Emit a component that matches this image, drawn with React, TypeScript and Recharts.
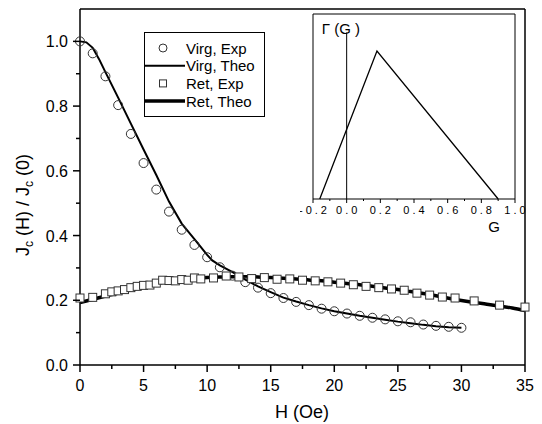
import React from 'react';
import { ComposedChart, LineChart, Line, Scatter, XAxis, YAxis, ReferenceLine, Legend } from 'recharts';

const FONT = "'Liberation Sans', Arial, Helvetica, sans-serif";

// Virgin curve, experiment (circles)
const virgExpH = [0, 1, 2, 3, 4, 5, 6, 7, 8, 9, 10, 11, 12, 13, 14, 15, 16, 17, 18, 19, 20, 21, 22, 23, 24, 25, 26, 27, 28, 29, 30];
const virgExpJ = [1.0, 0.963, 0.892, 0.803, 0.714, 0.624, 0.542, 0.474, 0.418, 0.371, 0.333, 0.302, 0.276, 0.256, 0.239, 0.222, 0.207, 0.195, 0.185, 0.174, 0.166, 0.159, 0.152, 0.146, 0.141, 0.135, 0.132, 0.125, 0.121, 0.118, 0.115];

// Virgin curve, theory
const virgTheoH = [0, 0.5, 1, 1.5, 2, 3, 4, 5, 6, 7, 8, 9, 10, 10.4, 11, 12, 13, 14, 15, 16, 17, 18, 19, 20, 21, 22, 23, 24, 25, 26, 27, 28, 29, 30];
const virgTheoJ = [1.0, 0.997, 0.98, 0.945, 0.905, 0.826, 0.746, 0.666, 0.587, 0.505, 0.437, 0.389, 0.34, 0.323, 0.308, 0.287, 0.264, 0.243, 0.225, 0.208, 0.196, 0.185, 0.175, 0.166, 0.159, 0.152, 0.146, 0.14, 0.134, 0.129, 0.124, 0.12, 0.117, 0.115];

// Return curve, experiment (squares)
const retExpH = [0, 1, 2, 2.5, 3, 3.5, 4, 4.5, 5, 5.5, 6, 6.5, 7, 7.5, 8, 8.5, 9, 9.5, 10.5, 11.5, 12.5, 13.5, 14.5, 15.5, 16.5, 17.5, 18.5, 19.5, 20.5, 21.5, 22.5, 23.5, 24.5, 25.5, 26.5, 27.5, 28.5, 29.5, 31, 33, 35];
const retExpJ = [0.207, 0.209, 0.22, 0.226, 0.229, 0.233, 0.239, 0.243, 0.246, 0.247, 0.253, 0.262, 0.261, 0.26, 0.264, 0.262, 0.269, 0.266, 0.269, 0.275, 0.272, 0.267, 0.27, 0.265, 0.266, 0.262, 0.26, 0.257, 0.253, 0.248, 0.243, 0.239, 0.235, 0.231, 0.222, 0.216, 0.21, 0.207, 0.198, 0.185, 0.179];

// Return curve, theory
const retTheoH = [0, 1, 2, 3, 4, 5, 6, 7, 8, 9, 10, 11, 12, 13, 14, 15, 16, 17, 18, 19, 20, 21, 22, 23, 24, 25, 26, 27, 28, 29, 30, 31, 32, 33, 34, 35];
const retTheoJ = [0.193, 0.203, 0.213, 0.222, 0.232, 0.242, 0.252, 0.259, 0.264, 0.267, 0.27, 0.272, 0.273, 0.273, 0.272, 0.27, 0.268, 0.266, 0.263, 0.26, 0.256, 0.252, 0.248, 0.243, 0.238, 0.233, 0.227, 0.221, 0.214, 0.206, 0.199, 0.193, 0.188, 0.182, 0.176, 0.168];

const xTicks = [0, 2.5, 5, 7.5, 10, 12.5, 15, 17.5, 20, 22.5, 25, 27.5, 30, 32.5, 35];
const yTicks = [0, 0.1, 0.2, 0.3, 0.4, 0.5, 0.6, 0.7, 0.8, 0.9, 1.0];

// inset: distribution Γ(G)
const insetG = [-0.16, 0.18, 0.9];
const insetGamma = [0, 0.8, 0];
const insetTicks = [-0.2, -0.1, 0, 0.1, 0.2, 0.3, 0.4, 0.5, 0.6, 0.7, 0.8, 0.9, 1.0];

const legendRows = [
  { name: 'Virg, Exp', kind: 'circle' },
  { name: 'Virg, Theo', kind: 'thin' },
  { name: 'Ret, Exp', kind: 'square' },
  { name: 'Ret, Theo', kind: 'thick' },
];

const zip = (xs: number[], ys: number[], kx: string, ky: string) => xs.map((x, i) => ({ [kx]: x, [ky]: ys[i] }));

const virgExp = zip(virgExpH, virgExpJ, 'h', 'j');
const virgTheo = zip(virgTheoH, virgTheoJ, 'h', 'j');
const retExp = zip(retExpH, retExpJ, 'h', 'j');
const retTheo = zip(retTheoH, retTheoJ, 'h', 'j');
const triangle = zip(insetG, insetGamma, 'g', 'v');

const XTick = (props: any) => {
  const { x, y, payload } = props;
  const v = payload.value;
  const major = v % 5 === 0;
  return (
    <g>
      <line x1={x} x2={x} y1={y} y2={y + (major ? 7 : 4)} stroke="#000" strokeWidth={1.5} />
      {major && (
        <text x={x} y={y + 26} textAnchor="middle" fontSize={16} fontFamily={FONT} fill="#000">
          {v}
        </text>
      )}
    </g>
  );
};

const YTick = (props: any) => {
  const { x, y, payload } = props;
  const v = payload.value;
  const major = Math.round(v * 10) % 2 === 0;
  return (
    <g>
      <line x1={x} x2={x - (major ? 7 : 4)} y1={y} y2={y} stroke="#000" strokeWidth={1.5} />
      {major && (
        <text x={x - 12} y={y + 6} textAnchor="end" fontSize={16} fontFamily={FONT} fill="#000">
          {v.toFixed(1)}
        </text>
      )}
    </g>
  );
};

const InsetTick = (props: any) => {
  const { x, y, payload } = props;
  const v = payload.value;
  const major = Math.round(v * 10) % 2 === 0;
  return (
    <g>
      <line x1={x} x2={x} y1={y} y2={y + (major ? 4 : 2)} stroke="#000" strokeWidth={1} />
      {major && (
        <text x={x + 1.5} y={y + 15} textAnchor="middle" fontSize={11} letterSpacing={3} fontFamily={FONT} fill="#000">
          {v.toFixed(1)}
        </text>
      )}
    </g>
  );
};

const Circle = (props: any) => <circle cx={props.cx} cy={props.cy} r={4.5} fill="none" stroke="#333" strokeWidth={1} />;
const Square = (props: any) => (
  <rect x={props.cx - 4} y={props.cy - 4} width={8} height={8} fill="#fff" stroke="#333" strokeWidth={1} />
);

const renderLegend = () => (
  <svg width={122} height={86} style={{ display: 'block' }}>
    <rect x={0.5} y={0.5} width={120} height={84} fill="#fff" stroke="#000" strokeWidth={1} />
    {legendRows.map((row, i) => {
      const cy = 16 + i * 17.7;
      return (
        <g key={row.name}>
          {row.kind === 'circle' && <circle cx={19} cy={cy} r={4} fill="none" stroke="#333" />}
          {row.kind === 'square' && <rect x={15.5} y={cy - 3.5} width={7} height={7} fill="#fff" stroke="#333" />}
          {row.kind === 'thin' && <line x1={0} x2={41} y1={cy} y2={cy} stroke="#000" strokeWidth={2} />}
          {row.kind === 'thick' && <line x1={0} x2={41} y1={cy} y2={cy} stroke="#000" strokeWidth={3.5} />}
          <text x={42} y={cy + 5.5} fontSize={15} fontFamily={FONT} fill="#000">
            {row.name}
          </text>
        </g>
      );
    })}
  </svg>
);

const YTitle = () => (
  <text transform="rotate(-90, 29, 205)" x={29} y={205} textAnchor="middle" fontSize={18} fontFamily={FONT} fill="#000">
    <tspan>J</tspan>
    <tspan dy={4} fontSize={12}>c</tspan>
    <tspan dy={-4}> (H) / J</tspan>
    <tspan dy={4} fontSize={12}>c</tspan>
    <tspan dy={-4}> (0)</tspan>
  </text>
);

const XTitle = () => (
  <text x={302} y={418} textAnchor="middle" fontSize={18} fontFamily={FONT} fill="#000">
    H (Oe)
  </text>
);

export default function App() {
  return (
    <div style={{ position: 'absolute', left: 0, top: 0, width: 542, height: 424, background: '#fff' }}>
      <ComposedChart width={542} height={424} margin={{ top: 9, right: 17, bottom: 0, left: 0 }}>
        <XAxis
          type="number"
          dataKey="h"
          domain={[0, 35]}
          ticks={xTicks}
          interval={0}
          height={59}
          tickSize={0}
          tickMargin={0}
          tickLine={false}
          tick={(p: any) => <XTick {...p} />}
          axisLine={{ stroke: '#000', strokeWidth: 1.5 }}
          label={{ content: () => <XTitle /> }}
        />
        <YAxis
          type="number"
          dataKey="j"
          domain={[0, 1.1]}
          ticks={yTicks}
          interval={0}
          width={80}
          tickSize={0}
          tickMargin={0}
          tickLine={false}
          tick={(p: any) => <YTick {...p} />}
          axisLine={{ stroke: '#000', strokeWidth: 1.5 }}
          label={{ content: () => <YTitle /> }}
        />
        <ReferenceLine y={1.1} stroke="#000" strokeWidth={1.5} />
        <ReferenceLine x={35} stroke="#000" strokeWidth={1.5} />
        <Line data={virgTheo} dataKey="j" type="linear" stroke="#000" strokeWidth={2} dot={false} isAnimationActive={false} />
        <Line data={retTheo} dataKey="j" type="monotone" stroke="#000" strokeWidth={3.5} dot={false} isAnimationActive={false} />
        <Scatter data={virgExp} dataKey="j" shape={(p: any) => <Circle {...p} />} isAnimationActive={false} />
        <Scatter data={retExp} dataKey="j" shape={(p: any) => <Square {...p} />} isAnimationActive={false} />
        <Legend
          content={renderLegend}
          layout="vertical"
          align="center"
          verticalAlign="middle"
          wrapperStyle={{ position: 'absolute', left: 144, top: 32, width: 122, height: 86 }}
        />
      </ComposedChart>

      <div style={{ position: 'absolute', left: 300, top: 5 }}>
        <LineChart width={240} height={235} margin={{ top: 9, right: 25, bottom: 0, left: 0 }}>
          <XAxis
            type="number"
            dataKey="g"
            domain={[-0.2, 1.0]}
            ticks={insetTicks}
            interval={0}
            height={41}
            tickSize={0}
            tickMargin={0}
            tickLine={false}
            tick={(p: any) => <InsetTick {...p} />}
            axisLine={{ stroke: '#000', strokeWidth: 1 }}
            label={{
              content: () => (
                <text x={194} y={227} textAnchor="middle" fontSize={15} fontFamily={FONT} fill="#000">
                  G
                </text>
              ),
            }}
          />
          <YAxis type="number" dataKey="v" domain={[0, 1]} width={13} tick={false} tickLine={false} axisLine={{ stroke: '#000', strokeWidth: 1 }} />
          <ReferenceLine y={1} stroke="#000" strokeWidth={1} />
          <ReferenceLine x={1} stroke="#000" strokeWidth={1} />
          <ReferenceLine
            segment={[{ x: 0, y: 0 }, { x: 0, y: 0.9 }]}
            stroke="#000"
            strokeWidth={1}
            label={{
              content: () => (
                <text x={41} y={29} textAnchor="middle" fontSize={15} fontFamily={FONT} fill="#000">
                  Γ (G )
                </text>
              ),
            }}
          />
          <Line data={triangle} dataKey="v" type="linear" stroke="#000" strokeWidth={1.3} dot={false} isAnimationActive={false} />
        </LineChart>
      </div>
    </div>
  );
}
